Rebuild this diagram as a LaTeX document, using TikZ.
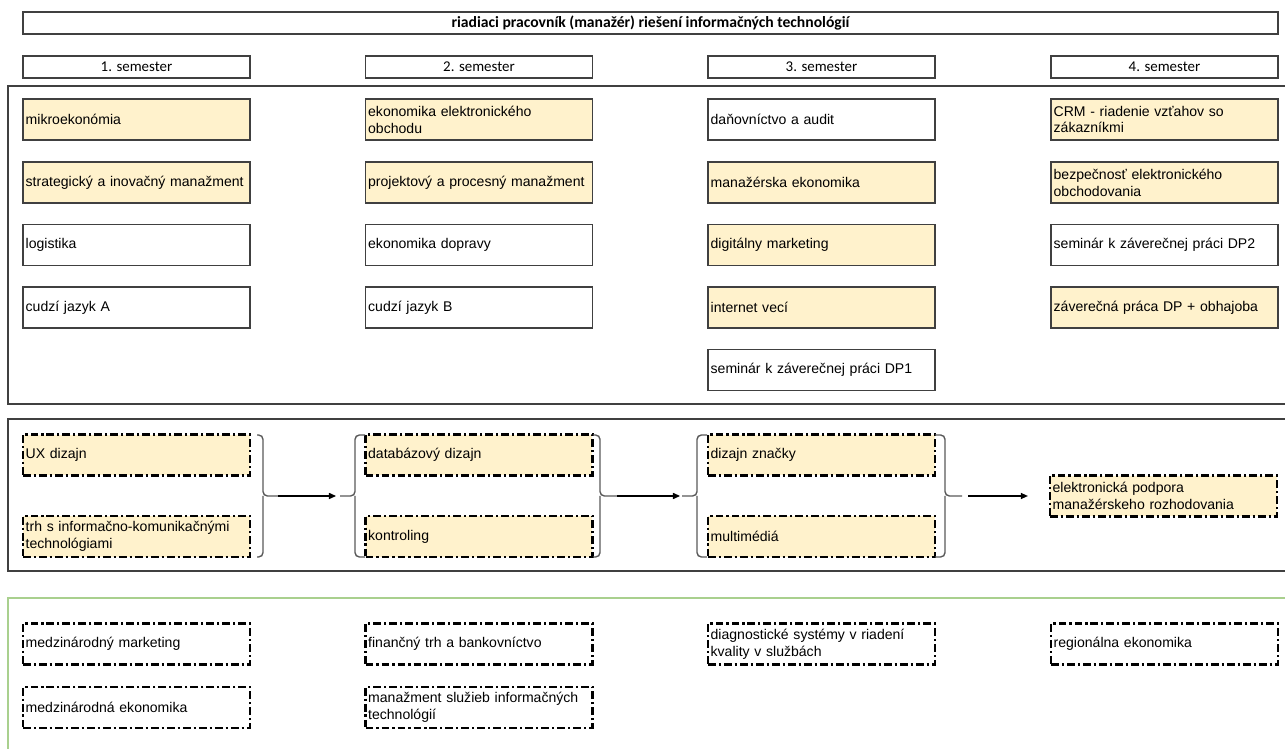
\documentclass[tikz,border=0pt]{standalone}
\usepackage{fontspec}
\setmainfont{Liberation Sans}
\newfontfamily\calibrifont{Carlito}
\usetikzlibrary{arrows.meta}
\definecolor{corefill}{HTML}{FFF2CC}
\definecolor{boxline}{HTML}{404040}
\definecolor{optgreen}{HTML}{A9D08E}

\begin{document}
\begin{tikzpicture}[x=0.02cm, y=-0.02cm,
  every node/.style={inner xsep=1.5pt, inner ysep=0pt},
  frame/.style={draw=boxline, line width=1.1pt},
  header/.style={draw=boxline, line width=0.8pt, minimum width=4.54cm, minimum height=0.44cm, font=\calibrifont\fontsize{8.5}{10}\selectfont},
  course/.style={draw=boxline, line width=0.7pt, minimum height=0.82cm, text width=4.434cm, align=left, font=\fontsize{8}{9.6}\selectfont},
  core/.style={course, fill=corefill},
  elective/.style={course, draw=black, line width=1.35pt, dash pattern=on 4.4pt off 1.7pt on 1.3pt off 1.7pt},
  brace/.style={draw=black!65, line width=0.8pt, rounded corners=2.5pt},
  flow/.style={-{Triangle[length=4pt,width=3.5pt]}, line width=0.6pt}]
  \clip (0,0) rectangle (1285,749);

  % title and semesters
  \node[header, minimum width=25.1cm, font=\calibrifont\bfseries\fontsize{8.9}{10}\selectfont] (title) at (650.5,23) {riadiaci pracovník (manažér) riešení informačných technológií};
  \node[header] (sem1) at (136.5,67) {1. semester};
  \node[header] (sem2) at (479,67) {2. semester};
  \node[header] (sem3) at (821.5,67) {3. semester};
  \node[header] (sem4) at (1164.5,67) {4. semester};

  % section frames
  \draw[frame] (8,86) rectangle (1295,404);
  \draw[frame] (8,419) rectangle (1295,571);
  \draw[draw=optgreen, line width=1.1pt] (8,598) rectangle (1295,770);

  % compulsory courses
  \node[core] (mikro) at (136.5,119.5) {mikroekonómia};
  \node[core] (strat) at (136.5,182.5) {strategický a inovačný manažment};
  \node[course] (logist) at (136.5,245) {logistika};
  \node[course] (jazykA) at (136.5,307.5) {cudzí jazyk A};

  \node[core] (ekobch) at (479,119.5) {ekonomika elektronického\\obchodu};
  \node[core] (projekt) at (479,182.5) {projektový a procesný manažment};
  \node[course] (doprava) at (479,245) {ekonomika dopravy};
  \node[course] (jazykB) at (479,307.5) {cudzí jazyk B};

  \node[course] (dane) at (821.5,119.5) {daňovníctvo a audit};
  \node[core] (manek) at (821.5,182.5) {manažérska ekonomika};
  \node[core] (digmark) at (821.5,245) {digitálny marketing};
  \node[core] (iot) at (821.5,307.5) {internet vecí};
  \node[course] (dp1) at (821.5,370) {seminár k záverečnej práci DP1};

  \node[core] (crm) at (1164.5,119.5) {CRM - riadenie vzťahov so\\zákazníkmi};
  \node[core] (bezp) at (1164.5,182.5) {bezpečnosť elektronického\\obchodovania};
  \node[course] (dp2) at (1164.5,245) {seminár k záverečnej práci DP2};
  \node[core] (zaver) at (1164.5,307.5) {záverečná práca DP + obhajoba};

  % profile electives
  \node[elective, fill=corefill] (ux) at (136.5,455) {UX dizajn};
  \node[elective, fill=corefill] (trh) at (136.5,536.5) {trh s informačno-komunikačnými\\technológiami};
  \node[elective, fill=corefill] (databaz) at (479,455) {databázový dizajn};
  \node[elective, fill=corefill] (kontrol) at (479,536.5) {kontroling};
  \node[elective, fill=corefill] (znacka) at (821.5,455) {dizajn značky};
  \node[elective, fill=corefill] (multim) at (821.5,536.5) {multimédiá};
  \node[elective, fill=corefill] (podpora) at (1163.5,496) {elektronická podpora\\manažérskeho rozhodovania};

  \draw[brace] (257,435) -- (263,435) -- (263,496) -- (278,496);
  \draw[brace] (257,557) -- (263,557) -- (263,496);
  \draw[brace] (365,435) -- (355,435) -- (355,496) -- (340,496);
  \draw[brace] (365,557) -- (355,557) -- (355,496);
  \draw[brace] (593,435) -- (600,435) -- (600,496) -- (617,496);
  \draw[brace] (593,557) -- (600,557) -- (600,496);
  \draw[brace] (707,435) -- (697,435) -- (697,496) -- (682,496);
  \draw[brace] (707,557) -- (697,557) -- (697,496);
  \draw[brace] (935,435) -- (945,435) -- (945,496) -- (962,496);
  \draw[brace] (935,557) -- (945,557) -- (945,496);
  \coordinate (c1r) at (278,496);
  \coordinate (c2l) at (340,496);
  \coordinate (c2r) at (617,496);
  \coordinate (c3l) at (682,496);
  \coordinate (c3r) at (962,496);
  \draw[flow, shorten >=0.08cm] (c1r) -- (c2l);
  \draw[flow, shorten >=0.04cm] (c2r) -- (c3l);
  \draw[flow, shorten <=0.12cm, shorten >=0.42cm] (c3r) -- (podpora);

  % free electives
  \node[elective] (medmark) at (136.5,644) {medzinárodný marketing};
  \node[elective] (medeko) at (136.5,707.5) {medzinárodná ekonomika};
  \node[elective] (fintrh) at (479,644) {finančný trh a bankovníctvo};
  \node[elective] (sluzby) at (479,707.5) {manažment služieb informačných\\technológií};
  \node[elective] (diag) at (821.5,644) {diagnostické systémy v riadení\\kvality v službách};
  \node[elective] (region) at (1164.5,644) {regionálna ekonomika};
\end{tikzpicture}
\end{document}
